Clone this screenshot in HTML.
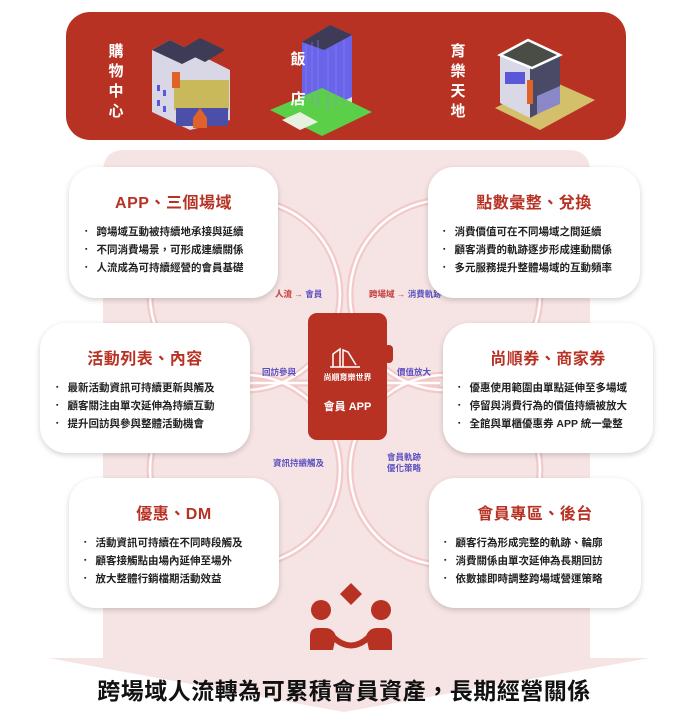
<!DOCTYPE html>
<html><head><meta charset="utf-8"><style>
*{margin:0;padding:0;box-sizing:border-box}
body{width:688px;height:720px;background:#fff;position:relative;overflow:hidden;font-family:"Liberation Sans","Noto Sans CJK TC",sans-serif}
.card{position:absolute;background:#fff;border-radius:26px;box-shadow:0 2px 6px rgba(0,0,0,.18)}
.card h3{color:#b83224;font-size:16px;font-weight:bold;text-align:center;margin-top:22px;letter-spacing:.5px}
.card ul{list-style:none;margin-top:10px}
.card li{font-size:10.5px;font-weight:bold;color:#222;line-height:18px;white-space:nowrap}
.card li:before{content:"▪";font-size:7px;margin-right:9px;vertical-align:2px}
.lbl{position:absolute;font-size:8.5px;font-weight:bold;color:#5a4fc0;white-space:nowrap;text-align:center;line-height:11px}
.lbl b{color:#c94a4a}
.vt{position:absolute;color:#fff;font-weight:bold;font-size:15px;line-height:20px;width:18px;text-align:center}
</style></head><body>
<svg width="688" height="720" style="position:absolute;left:0;top:0">
<path d="M103 172 Q103 150 125 150 L568 150 Q590 150 590 172 L590 658 L650 658 L344 712 L48 658 L103 658 Z" fill="#f6e4e4"/>
<g fill="none" stroke="#f3c9c9" stroke-width="7">
<circle cx="245" cy="295" r="95"/><circle cx="445" cy="295" r="95"/>
<circle cx="245" cy="470" r="95"/><circle cx="445" cy="470" r="95"/>
<line x1="250" y1="383" x2="440" y2="383"/>
</g>
<g fill="none" stroke="#fff" stroke-width="2.5">
<circle cx="245" cy="295" r="95"/><circle cx="445" cy="295" r="95"/>
<circle cx="245" cy="470" r="95"/><circle cx="445" cy="470" r="95"/>
<line x1="250" y1="383" x2="440" y2="383"/>
</g>
<rect x="66" y="12" width="560" height="128" rx="24" fill="#b83224"/>
<g>
<polygon points="152,50 170,40 230,70 230,120 190,130 152,112" fill="#d9d6e6"/>
<polygon points="152,50 170,40 200,55 182,64" fill="#3d3b55"/>
<polygon points="180,50 200,38 225,50 205,62" fill="#3d3b55"/>
<rect x="174" y="80" width="55" height="30" fill="#c9b95a"/>
<rect x="176" y="108" width="52" height="18" fill="#4c4fa8"/>
<rect x="172" y="72" width="8" height="16" fill="#e0622b"/>
<polygon points="193,118 200,108 207,118 207,128 193,128" fill="#e0622b"/>
<g fill="#5a58d8"><rect x="157" y="85" width="3" height="6"/><rect x="163" y="90" width="3" height="6"/><rect x="157" y="100" width="3" height="6"/><rect x="163" y="106" width="3" height="6"/></g>
</g>
<g>
<polygon points="302,98 302,42 330,25 352,35 352,110 322,122" fill="#6a64e8"/>
<polygon points="302,42 330,25 352,35 324,50" fill="#3d3b55"/>
<polygon points="302,98 324,110 352,97 352,110 322,128 302,118" fill="#e4e0dc"/>
<polygon points="270,110 322,88 372,112 322,136" fill="#5bcf47"/>
<polygon points="282,120 300,112 318,122 300,130" fill="#e8f0e0"/>
<g stroke="#8c88ff" stroke-width=".6"><line x1="306" y1="44" x2="306" y2="100"/><line x1="312" y1="42" x2="312" y2="104"/><line x1="318" y1="40" x2="318" y2="107"/><line x1="328" y1="50" x2="328" y2="110"/><line x1="336" y1="45" x2="336" y2="106"/><line x1="344" y1="40" x2="344" y2="103"/></g>
</g>
<g>
<polygon points="495,108 550,80 595,100 540,130" fill="#d4c06a"/>
<polygon points="500,55 528,42 560,55 560,102 530,118 500,103" fill="#d9d8e6"/>
<polygon points="528,42 560,55 560,102 530,118 530,58" fill="#4a4a66"/>
<polygon points="500,55 528,40 560,55 532,68" fill="#4a4c46" stroke="#fff" stroke-width="2.5"/>
<rect x="505" y="72" width="20" height="12" fill="#5a58d8"/>
<rect x="527" y="80" width="6" height="24" fill="#e0622b"/>
<polygon points="537,96 560,86 560,104 537,114" fill="#8a88c8"/>
</g>
<rect x="308" y="313" width="79" height="127" rx="9" fill="#b83224"/>
<rect x="384" y="345" width="9" height="18" rx="4" fill="#b83224"/>
<g fill="none" stroke="#fff" stroke-width="1.5"><polyline points="333,367 333,354 340,349 340,367"/><polyline points="343,367 343,350 348,352 356,365"/><line x1="330" y1="367" x2="360" y2="367"/></g>
<g fill="#b83224">
<polygon points="351,583 362,594 351,605 340,594"/>
<circle cx="321" cy="610" r="10"/><circle cx="381" cy="610" r="10"/>
<path d="M310 650 L310 636 Q310 628 318 628 L325 628 Q333 628 336 636 L333 650 Z"/>
<path d="M392 650 L392 636 Q392 628 384 628 L377 628 Q369 628 366 636 L369 650 Z"/>
</g>
<path d="M333 637 Q351 654 369 637" fill="none" stroke="#b83224" stroke-width="6"/>
</svg>
<div class="vt" style="left:107px;top:42px">購<br>物<br>中<br>心</div>
<div class="vt" style="left:289px;top:50px">飯</div>
<div class="vt" style="left:289px;top:90px">店</div>
<div class="vt" style="left:449px;top:42px">育<br>樂<br>天<br>地</div>

<div style="position:absolute;left:308px;top:372px;width:79px;text-align:center;color:#fff;font-size:8px;font-weight:bold">尚順育樂世界</div>
<div style="position:absolute;left:308px;top:398px;width:79px;text-align:center;color:#fff;font-size:11px;font-weight:bold">會員 APP</div>

<div class="lbl" style="left:275px;top:289px"><b>人流 → </b>會員</div>
<div class="lbl" style="left:369px;top:289px"><b>跨場域 → </b>消費軌跡</div>
<div class="lbl" style="left:262px;top:367px">回訪參與</div>
<div class="lbl" style="left:397px;top:367px">價值放大</div>
<div class="lbl" style="left:273px;top:458px">資訊持續觸及</div>
<div class="lbl" style="left:387px;top:452px">會員軌跡<br>優化策略</div>

<div class="card" style="left:69px;top:167px;width:209px;height:131px"><h3>APP、三個場域</h3><ul style="margin-left:16px"><li>跨場域互動被持續地承接與延續</li><li>不同消費場景，可形成連續關係</li><li>人流成為可持續經營的會員基礎</li></ul></div>
<div class="card" style="left:428px;top:167px;width:212px;height:131px"><h3>點數彙整、兌換</h3><ul style="margin-left:15px"><li>消費價值可在不同場域之間延續</li><li>顧客消費的軌跡逐步形成連動關係</li><li>多元服務提升整體場域的互動頻率</li></ul></div>
<div class="card" style="left:40px;top:323px;width:210px;height:130px"><h3>活動列表、內容</h3><ul style="margin-left:16px"><li>最新活動資訊可持續更新與觸及</li><li>顧客關注由單次延伸為持續互動</li><li>提升回訪與參與整體活動機會</li></ul></div>
<div class="card" style="left:443px;top:323px;width:210px;height:130px"><h3>尚順券、商家券</h3><ul style="margin-left:15px"><li>優惠使用範圍由單點延伸至多場域</li><li>停留與消費行為的價值持續被放大</li><li>全館與單櫃優惠券 APP 統一彙整</li></ul></div>
<div class="card" style="left:69px;top:478px;width:210px;height:130px"><h3>優惠、DM</h3><ul style="margin-left:15px"><li>活動資訊可持續在不同時段觸及</li><li>顧客接觸點由場內延伸至場外</li><li>放大整體行銷檔期活動效益</li></ul></div>
<div class="card" style="left:429px;top:478px;width:212px;height:130px"><h3>會員專區、後台</h3><ul style="margin-left:15px"><li>顧客行為形成完整的軌跡、輪廓</li><li>消費關係由單次延伸為長期回訪</li><li>依數據即時調整跨場域營運策略</li></ul></div>

<div style="position:absolute;left:0;top:672px;width:688px;text-align:center;font-size:23px;font-weight:bold;color:#111;letter-spacing:.5px">跨場域人流轉為可累積會員資產，長期經營關係</div>
</body></html>
